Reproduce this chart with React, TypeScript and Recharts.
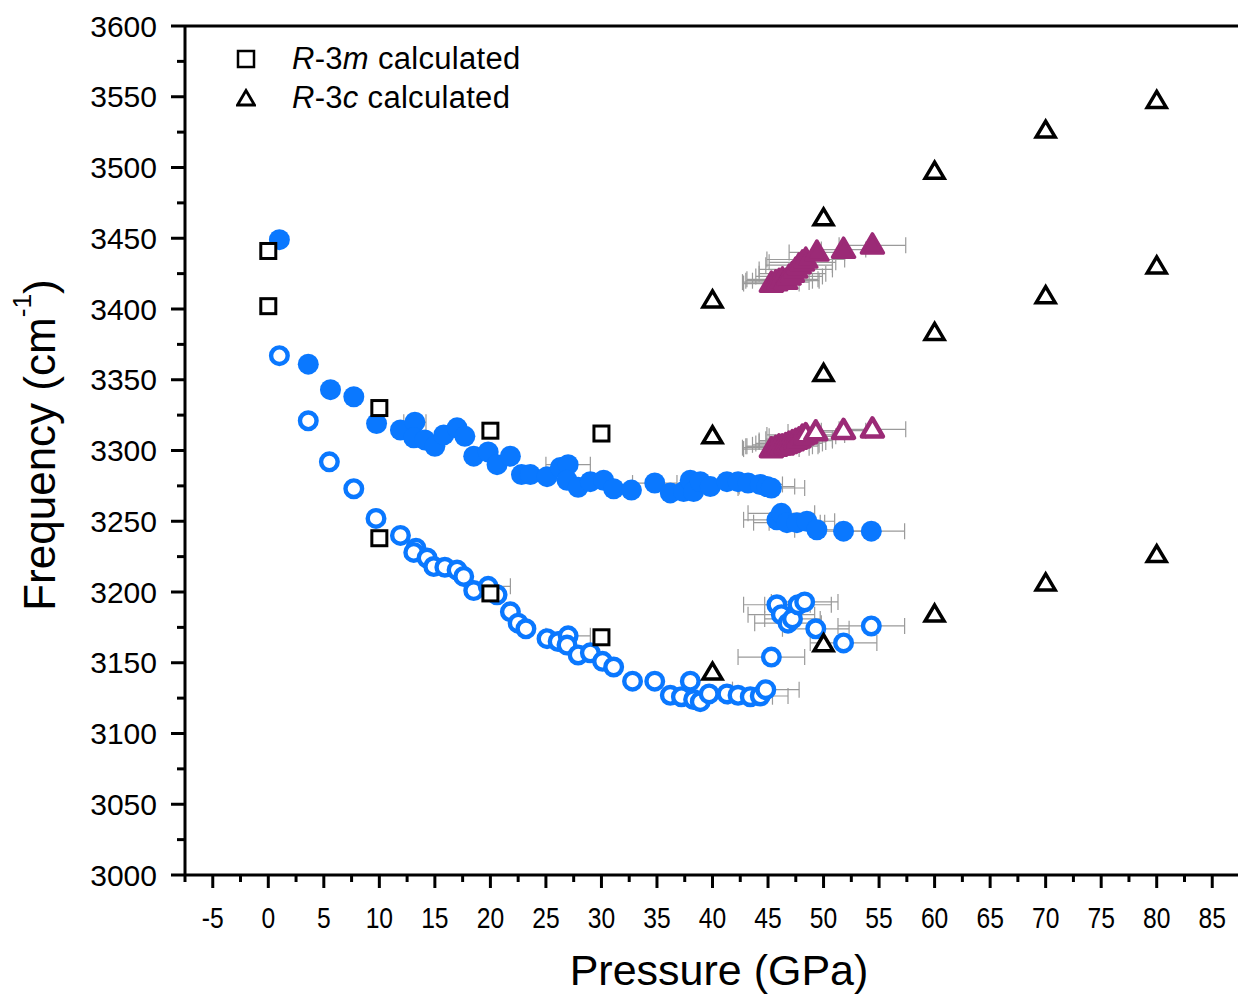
import {
  ScatterChart,
  Scatter,
  XAxis,
  YAxis,
  ErrorBar,
  ReferenceLine
} from 'recharts';

// calculated frequencies (GPa, cm-1)
const r3mCalc = [
  { p: 0, f: 3441 }, { p: 0, f: 3402 },
  { p: 10, f: 3330 }, { p: 10, f: 3238 },
  { p: 20, f: 3314 }, { p: 20, f: 3199 },
  { p: 30, f: 3312 }, { p: 30, f: 3168 },
];

const r3cCalc = [
  { p: 40, f: 3406 }, { p: 40, f: 3310 }, { p: 40, f: 3143 },
  { p: 50, f: 3464 }, { p: 50, f: 3354 }, { p: 50, f: 3163 },
  { p: 60, f: 3497 }, { p: 60, f: 3383 }, { p: 60, f: 3184 },
  { p: 70, f: 3526 }, { p: 70, f: 3409 }, { p: 70, f: 3206 },
  { p: 80, f: 3547 }, { p: 80, f: 3430 }, { p: 80, f: 3226 },
];

// measured, upper band (filled circles)
const upperFilled = [
  { p: 1.0, f: 3449 }, { p: 3.6, f: 3361 }, { p: 5.6, f: 3343 }, { p: 7.7, f: 3338 },
  { p: 9.75, f: 3319 }, { p: 11.9, f: 3314.5 }, { p: 13.2, f: 3320, err: 1 }, { p: 13.1, f: 3309 },
  { p: 14.1, f: 3307.5 }, { p: 15.0, f: 3303 }, { p: 15.8, f: 3311 }, { p: 17.0, f: 3316 },
  { p: 17.7, f: 3310 }, { p: 18.5, f: 3296 }, { p: 19.8, f: 3299 }, { p: 20.6, f: 3290 },
  { p: 21.8, f: 3296 }, { p: 22.8, f: 3283 }, { p: 23.6, f: 3283 }, { p: 25.1, f: 3281.5 },
  { p: 26.3, f: 3288 }, { p: 27.0, f: 3290, err: 2 }, { p: 26.9, f: 3279 }, { p: 27.9, f: 3274 },
  { p: 29.0, f: 3278 }, { p: 30.2, f: 3279 }, { p: 31.1, f: 3273 }, { p: 32.7, f: 3272 },
  { p: 34.8, f: 3277, err: 2 }, { p: 36.2, f: 3270 }, { p: 37.4, f: 3271 }, { p: 38.0, f: 3279 },
  { p: 38.3, f: 3271 }, { p: 38.9, f: 3278 }, { p: 39.8, f: 3274.5 }, { p: 41.3, f: 3278 },
  { p: 42.3, f: 3278 }, { p: 43.2, f: 3277 }, { p: 44.3, f: 3276, err: 2 }, { p: 44.9, f: 3274.5, err: 2.5 },
  { p: 45.3, f: 3273.5, err: 3 },
  { p: 45.8, f: 3251, err: 3 }, { p: 46.2, f: 3255.6, err: 3 }, { p: 46.7, f: 3249, err: 3 },
  { p: 47.6, f: 3249, err: 2.5 }, { p: 48.5, f: 3250, err: 2.5 }, { p: 49.4, f: 3244, err: 2 },
  { p: 51.8, f: 3243, err: 2.5 }, { p: 54.3, f: 3243, err: 3 },
];

// measured, lower band (open circles)
const lowerOpen = [
  { p: 1.0, f: 3367 }, { p: 3.6, f: 3321 }, { p: 5.5, f: 3292 }, { p: 7.7, f: 3273 },
  { p: 9.7, f: 3252 }, { p: 11.9, f: 3240 }, { p: 13.3, f: 3231 }, { p: 13.1, f: 3228 },
  { p: 14.3, f: 3224 }, { p: 14.9, f: 3218 }, { p: 15.9, f: 3217.5 }, { p: 17.0, f: 3215.5 },
  { p: 17.6, f: 3211 }, { p: 18.5, f: 3201 }, { p: 19.8, f: 3204, err: 2 }, { p: 20.6, f: 3198 },
  { p: 21.8, f: 3186 }, { p: 22.5, f: 3178 }, { p: 23.2, f: 3174 }, { p: 25.1, f: 3167 },
  { p: 26.1, f: 3165 }, { p: 27.0, f: 3169, err: 2 }, { p: 26.9, f: 3162.5 }, { p: 27.9, f: 3155.5 },
  { p: 29.0, f: 3157 }, { p: 30.1, f: 3151 }, { p: 31.1, f: 3147 }, { p: 32.8, f: 3137 },
  { p: 34.8, f: 3137 }, { p: 36.2, f: 3127 }, { p: 37.2, f: 3126 }, { p: 38.0, f: 3137 },
  { p: 38.3, f: 3124 }, { p: 38.9, f: 3122.5 }, { p: 39.7, f: 3128 }, { p: 41.3, f: 3128 },
  { p: 42.3, f: 3127 }, { p: 43.4, f: 3126, err: 2 }, { p: 44.3, f: 3126.5, err: 2.5 }, { p: 44.8, f: 3131, err: 3 },
  { p: 45.3, f: 3154, err: 3 }, { p: 45.8, f: 3191, err: 3 }, { p: 46.2, f: 3184, err: 3 },
  { p: 46.8, f: 3178, err: 3 }, { p: 47.2, f: 3181, err: 2.5 }, { p: 47.7, f: 3191, err: 3 },
  { p: 48.3, f: 3193, err: 3 }, { p: 49.3, f: 3174, err: 3 }, { p: 51.8, f: 3164, err: 3 },
  { p: 54.3, f: 3176, err: 3 },
];

// measured, new phase (purple triangles)
const purpleFilled = [
  { p: 45.3, f: 3418, err: 2.5 }, { p: 45.7, f: 3419, err: 3 }, { p: 46.0, f: 3420, err: 3 },
  { p: 46.3, f: 3421, err: 3.2 }, { p: 46.6, f: 3420, err: 3 }, { p: 46.9, f: 3423, err: 3 },
  { p: 47.2, f: 3425, err: 3 }, { p: 47.5, f: 3428, err: 3.3 }, { p: 47.8, f: 3431, err: 3 },
  { p: 48.1, f: 3433, err: 3 }, { p: 48.4, f: 3435, err: 3.5 }, { p: 49.4, f: 3440, err: 2.5 },
  { p: 51.8, f: 3442, err: 2 }, { p: 54.4, f: 3445, err: 3 },
];

const purpleOpen = [
  { p: 45.3, f: 3301, err: 2.5 }, { p: 45.7, f: 3302, err: 3 }, { p: 46.0, f: 3303, err: 3 },
  { p: 46.3, f: 3303, err: 3.2 }, { p: 46.6, f: 3304, err: 3 }, { p: 46.9, f: 3305, err: 3 },
  { p: 47.2, f: 3306, err: 3 }, { p: 47.5, f: 3307, err: 3.3 }, { p: 47.8, f: 3308, err: 3 },
  { p: 48.1, f: 3310, err: 3 }, { p: 48.4, f: 3311, err: 3.5 }, { p: 49.3, f: 3313, err: 2.5 },
  { p: 51.8, f: 3314, err: 2 }, { p: 54.4, f: 3315, err: 3 },
];

const xTicks = [
  -7.5, -5, -2.5, 0, 2.5, 5, 7.5, 10, 12.5, 15, 17.5, 20, 22.5, 25, 27.5, 30, 32.5, 35, 37.5,
  40, 42.5, 45, 47.5, 50, 52.5, 55, 57.5, 60, 62.5, 65, 67.5, 70, 72.5, 75, 77.5, 80, 82.5, 85, 87.5,
];
const yTicks = [
  3000, 3025, 3050, 3075, 3100, 3125, 3150, 3175, 3200, 3225, 3250, 3275, 3300,
  3325, 3350, 3375, 3400, 3425, 3450, 3475, 3500, 3525, 3550, 3575, 3600,
];

const BLUE = '#0a78ff';
const PURPLE = '#9b2a76';
const ERR = '#9a9a9a';
const FONT = '"Liberation Sans", Arial, sans-serif';

const triPath = (cx: number, cy: number, w: number, h: number) =>
  `M${cx},${cy - h * 0.6} L${cx + w / 2},${cy + h * 0.4} L${cx - w / 2},${cy + h * 0.4} Z`;

const FilledCircle = ({ cx, cy }: any) => <circle cx={cx} cy={cy} r={10.5} fill={BLUE} />;
const OpenCircle = ({ cx, cy }: any) => (
  <circle cx={cx} cy={cy} r={8.3} fill="#fff" stroke={BLUE} strokeWidth={4.4} />
);
const Square = ({ cx, cy }: any) => (
  <rect x={cx - 7.5} y={cy - 7.5} width={15} height={15} fill="#fff" stroke="#000" strokeWidth={3} />
);
const BlackTri = ({ cx, cy }: any) => (
  <path d={triPath(cx, cy, 19, 16)} fill="#fff" stroke="#000" strokeWidth={3.5} />
);
const PurpleTriFilled = ({ cx, cy }: any) => (
  <path d={triPath(cx, cy, 22, 19)} fill={PURPLE} stroke={PURPLE} strokeWidth={3.5} strokeLinejoin="round" />
);
const PurpleTriOpen = ({ cx, cy }: any) => (
  <path d={triPath(cx, cy, 21, 18)} fill="#fff" stroke={PURPLE} strokeWidth={4.5} strokeLinejoin="round" />
);

const YTick = ({ x, y, payload }: any) => {
  const major = payload.value % 50 === 0;
  return (
    <g>
      <line x1={x - (major ? 14 : 8)} x2={x} y1={y} y2={y} stroke="#000" strokeWidth={3} />
      {major && (
        <text x={x - 28} y={y} textAnchor="end" dominantBaseline="central" fontSize={30} fontFamily={FONT} fill="#000">
          {payload.value}
        </text>
      )}
    </g>
  );
};

const XTick = ({ x, y, payload }: any) => {
  const v = payload.value;
  const major = Math.abs(v % 5) < 1e-6;
  return (
    <g>
      <line x1={x} x2={x} y1={y} y2={y + (major ? 13 : 7)} stroke="#000" strokeWidth={3} />
      {major && v < 87 && (
        <text
          transform={`translate(${x},${y + 43}) scale(0.85,1)`}
          textAnchor="middle"
          dominantBaseline="central"
          fontSize={29}
          fontFamily={FONT}
          fill="#000"
        >
          {v}
        </text>
      )}
    </g>
  );
};

export default function App() {
  return (
    <div style={{ position: 'absolute', left: 0, top: 0, width: 1238, height: 998, overflow: 'hidden', background: '#fff', fontFamily: FONT }}>
      <ScatterChart width={1245} height={998} margin={{ top: 26, right: 5, bottom: 0, left: 0 }}>
        <XAxis
          type="number"
          dataKey="p"
          domain={[-7.5, 87.5]}
          ticks={xTicks}
          interval={0}
          allowDataOverflow
          height={123}
          tickSize={0}
          tickMargin={0}
          tickLine={false}
          axisLine={{ stroke: '#000', strokeWidth: 3 }}
          tick={<XTick />}
        />
        <YAxis
          type="number"
          dataKey="f"
          domain={[3000, 3600]}
          ticks={yTicks}
          interval={0}
          allowDataOverflow
          width={185}
          tickSize={0}
          tickMargin={0}
          tickLine={false}
          axisLine={{ stroke: '#000', strokeWidth: 3 }}
          tick={<YTick />}
        />
        <ReferenceLine y={3600} stroke="#000" strokeWidth={3} />
        <Scatter data={upperFilled} shape={<FilledCircle />} isAnimationActive={false}>
          <ErrorBar dataKey="err" direction="x" width={8} stroke={ERR} strokeWidth={1.2} />
        </Scatter>
        <Scatter data={lowerOpen} shape={<OpenCircle />} isAnimationActive={false}>
          <ErrorBar dataKey="err" direction="x" width={8} stroke={ERR} strokeWidth={1.2} />
        </Scatter>
        <Scatter data={purpleFilled} shape={<PurpleTriFilled />} isAnimationActive={false}>
          <ErrorBar dataKey="err" direction="x" width={8} stroke={ERR} strokeWidth={1.2} />
        </Scatter>
        <Scatter data={purpleOpen} shape={<PurpleTriOpen />} isAnimationActive={false}>
          <ErrorBar dataKey="err" direction="x" width={8} stroke={ERR} strokeWidth={1.2} />
        </Scatter>
        <Scatter data={r3mCalc} shape={<Square />} isAnimationActive={false} />
        <Scatter data={r3cCalc} shape={<BlackTri />} isAnimationActive={false} />
      </ScatterChart>

      {/* legend */}
      <div style={{ position: 'absolute', left: 236, top: 39, fontSize: 31, lineHeight: '39px', color: '#000', letterSpacing: '0.3px' }}>
        <div style={{ display: 'flex', alignItems: 'center' }}>
          <svg width={20} height={20} style={{ marginRight: 36 }}>
            <rect x={2} y={2} width={16} height={16} fill="#fff" stroke="#000" strokeWidth={2.5} />
          </svg>
          <span><i>R</i>-3<i>m</i> calculated</span>
        </div>
        <div style={{ display: 'flex', alignItems: 'center' }}>
          <svg width={20} height={20} style={{ marginRight: 36 }}>
            <path d="M10,2.5 L18.5,17 L1.5,17 Z" fill="#fff" stroke="#000" strokeWidth={2.8} />
          </svg>
          <span><i>R</i>-3<i>c</i> calculated</span>
        </div>
      </div>

      {/* axis titles */}
      <div
        style={{
          position: 'absolute', left: 40, top: 445, fontSize: 44, whiteSpace: 'nowrap', color: '#000',
          transform: 'translate(-50%, -50%) rotate(-90deg)'
        }}
      >
        Frequency (cm<sup style={{ fontSize: '0.6em', verticalAlign: '0.9em', lineHeight: 0 }}>-1</sup>)
      </div>
      <div
        style={{
          position: 'absolute', left: 719, top: 970, fontSize: 43, whiteSpace: 'nowrap', color: '#000',
          transform: 'translate(-50%, -50%)'
        }}
      >
        Pressure (GPa)
      </div>
    </div>
  );
}
